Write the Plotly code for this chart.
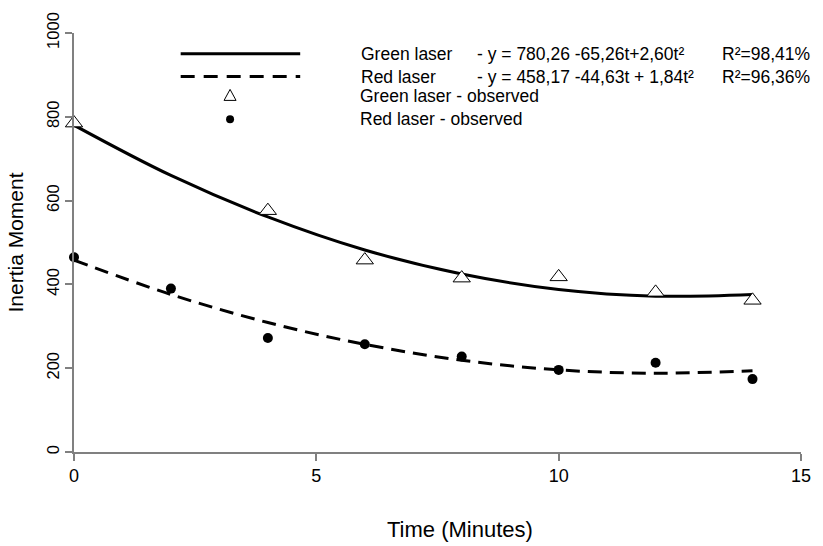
import plotly.graph_objects as go

# ---- data ----
t_green_obs = [0, 4, 6, 8, 10, 12, 14]
green_obs = [785, 576, 458, 415, 418, 381, 362]

t_red_obs = [0, 2, 4, 6, 8, 10, 12, 14]
red_obs = [465, 390, 272, 257, 228, 196, 213, 174]

t_fit = [0, 2, 4, 6, 8, 10, 12, 14]
green_fit = [780, 660, 561, 482, 425, 388, 372, 376]
red_fit = [458, 376, 309, 257, 219, 196, 188, 194]

x_ticks = [0, 5, 10, 15]
y_ticks = [0, 200, 400, 600, 800, 1000]

legend_rows = [
    ("Green laser", "- y = 780,26 -65,26t+2,60t\u00b2", "R\u00b2=98,41%"),
    ("Red laser", "- y = 458,17 -44,63t + 1,84t\u00b2", "R\u00b2=96,36%"),
]
legend_obs = ["Green laser - observed", "Red laser - observed"]

FONT = "Liberation Sans, Arial, sans-serif"
W, H = 823, 546
L, R, T, B = 74, 13, 29, 94
PW, PH = W - L - R, H - T - B


def px(x):
    return (x - L) / PW


def py(y):
    return (H - B - y) / PH


fig = go.Figure()
fig.add_trace(go.Scatter(x=t_fit, y=green_fit, mode="lines", line=dict(color="black", width=3, shape="spline"),
                         showlegend=False, hoverinfo="skip"))
fig.add_trace(go.Scatter(x=t_fit, y=red_fit, mode="lines",
                         line=dict(color="black", width=3, dash="14px,8px", shape="spline"),
                         showlegend=False, hoverinfo="skip"))
fig.add_trace(go.Scatter(x=t_green_obs, y=green_obs, mode="markers",
                         marker=dict(symbol="triangle-up", size=15, color="white",
                                     line=dict(color="black", width=1)),
                         cliponaxis=False, showlegend=False))
fig.add_trace(go.Scatter(x=t_red_obs, y=red_obs, mode="markers",
                         marker=dict(symbol="circle", size=10, color="black"),
                         cliponaxis=False, showlegend=False))

shapes = []
annotations = []
row_y = [50, 73]
for i, (name, eq, r2) in enumerate(legend_rows):
    y = py(row_y[i])
    shapes.append(dict(type="line", xref="paper", yref="paper", x0=px(182), x1=px(303), y0=y, y1=y,
                       line=dict(color="black", width=3, dash="solid" if i == 0 else "14px,9px")))
    for text, xpos in ((name, 363), (eq, 480), (r2, 728)):
        annotations.append(dict(xref="paper", yref="paper", x=px(xpos), y=y, text=text, showarrow=False,
                                xanchor="left", yanchor="middle", font=dict(size=17.5, color="black", family=FONT)))

obs_y = [93, 116]
shapes.append(dict(type="path", xref="paper", yref="paper", xsizemode="pixel", ysizemode="pixel",
                   xanchor=px(232), yanchor=py(obs_y[0]),
                   path="M -6 -4 L 6 -4 L 0 7 Z", fillcolor="white", line=dict(color="black", width=1)))
shapes.append(dict(type="circle", xref="paper", yref="paper", xsizemode="pixel", ysizemode="pixel",
                   xanchor=px(232), yanchor=py(obs_y[1]), x0=-4, x1=4, y0=-4, y1=4,
                   fillcolor="black", line=dict(color="black", width=0)))
for i, text in enumerate(legend_obs):
    annotations.append(dict(xref="paper", yref="paper", x=px(362), y=py(obs_y[i]), text=text, showarrow=False,
                            xanchor="left", yanchor="middle", font=dict(size=17.5, color="black", family=FONT)))

# x-axis title (offset to the right of the plot centre, as in the reference)
annotations.append(dict(xref="paper", yref="paper", x=px(465), y=py(530), text="Time (Minutes)", showarrow=False,
                        xanchor="center", yanchor="middle", font=dict(size=22, color="black", family=FONT)))

axis_common = dict(showline=True, linecolor="#808080", linewidth=1.5, ticks="outside", ticklen=7,
                   tickwidth=1.5, tickcolor="#808080", showgrid=False, zeroline=False)

fig.update_layout(
    width=W, height=H,
    margin=dict(l=L, r=R, t=T, b=B),
    plot_bgcolor="white", paper_bgcolor="white",
    font=dict(family=FONT, color="black"),
    xaxis=dict(range=[0, 15], tickvals=x_ticks, ticktext=[str(v) for v in x_ticks],
               tickfont=dict(size=18, color="black", family=FONT), **axis_common),
    yaxis=dict(range=[0, 1000], tickvals=y_ticks, ticktext=[str(v) for v in y_ticks], tickangle=-90,
               tickfont=dict(size=16.5, color="black", family=FONT),
               title=dict(text="Inertia Moment", font=dict(size=21, family=FONT, color="black"), standoff=14),
               **axis_common),
    shapes=shapes,
    annotations=annotations,
    showlegend=False,
)

fig.write_html("out.html", config={"displayModeBar": False},
               post_script="document.body.style.margin='0';")
